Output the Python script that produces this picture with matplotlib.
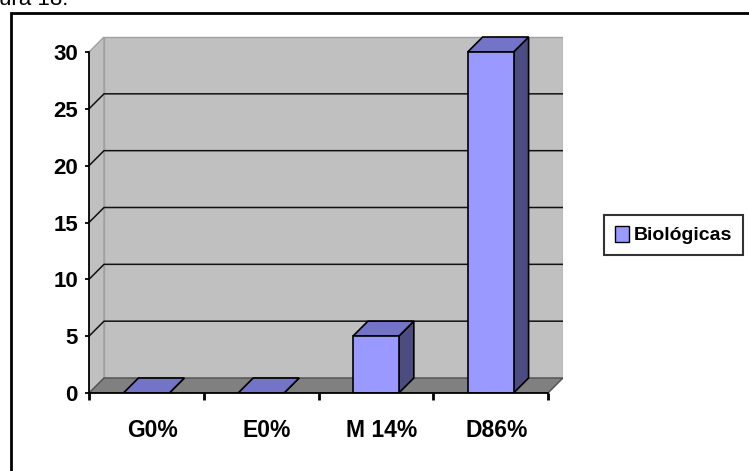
import matplotlib
matplotlib.use('Agg')
import matplotlib.pyplot as plt
from matplotlib.patches import Polygon, Rectangle, Patch

categories = ['G0%', 'E0%', 'M 14%', 'D86%']
biologicas = [0, 0, 5, 30]
yticks = [0, 5, 10, 15, 20, 25, 30]

plt.rcParams['font.family'] = ['Liberation Sans', 'DejaVu Sans']
plt.rcParams['font.weight'] = 'bold'

W, H = 749, 471
fig = plt.figure(figsize=(W / 100, H / 100), dpi=100)


def fx(px):
    return px / W


def fy(py):
    return 1 - py / H


# plot box in pixels (front axis origin, back wall corner)
left, right, bottom, top = 89, 563, 393, 36
ax = fig.add_axes([fx(left), fy(bottom), fx(right) - fx(left), fy(top) - fy(bottom)])
n = len(categories)
ymax = max(yticks)
xscale = (548 - left) / n
yscale = (bottom - 52) / ymax
ax.set_xlim(0, (right - left) / xscale)
ax.set_ylim(0, (bottom - top) / yscale)
dx = 15 / xscale
dy = 15 / yscale

# walls and floor
ax.add_patch(Polygon([(0, 0), (dx, dy), (dx, ymax + dy), (0, ymax)],
                     fc='#C0C0C0', ec='#a0a0a0', lw=1, zorder=1))
ax.add_patch(Rectangle((dx, dy), n, ymax, fc='#C0C0C0', ec='#a0a0a0', lw=1, zorder=1))
ax.add_patch(Polygon([(0, 0), (n, 0), (n + dx, dy), (dx, dy)],
                     fc='#808080', ec='#505050', lw=1, zorder=2))

# gridlines on side and back walls
for t in yticks[1:-1]:
    ax.plot([0, dx, n + dx], [t, t + dy, t + dy], color='#111111', lw=1.1, zorder=2)

# 3d bars
w = 0.4
for i, v in enumerate(biologicas):
    x0 = i + 0.5 - w / 2
    ax.add_patch(Polygon([(x0 + w, 0), (x0 + w + dx, dy), (x0 + w + dx, v + dy), (x0 + w, v)],
                         fc='#4C4C80', ec='k', lw=1.2, zorder=3))
    ax.add_patch(Polygon([(x0, v), (x0 + w, v), (x0 + w + dx, v + dy), (x0 + dx, v + dy)],
                         fc='#7373C7', ec='k', lw=1.2, zorder=3))
    ax.add_patch(Rectangle((x0, 0), w, v, fc='#9999FF', ec='k', lw=1.2, zorder=4))

ax.patch.set_visible(False)
for s in ['top', 'right']:
    ax.spines[s].set_visible(False)
ax.spines['left'].set_bounds(0, ymax)
ax.spines['bottom'].set_bounds(0, n)
ax.spines['left'].set_linewidth(1.3)
ax.spines['bottom'].set_linewidth(1.3)
ax.spines['left'].set_zorder(5)
ax.spines['bottom'].set_zorder(5)

ax.set_yticks(yticks)
ax.set_yticklabels([str(t) for t in yticks], fontsize=16)
ax.tick_params(axis='y', length=3, width=1.3, pad=5)

ax.set_xticks(range(n + 1))
ax.set_xticklabels([])
ax.set_xticks([i + 0.55 for i in range(n)], minor=True)
ax.set_xticklabels(categories, minor=True, fontsize=16.5)
ax.tick_params(axis='x', which='major', length=5, width=2)
ax.tick_params(axis='x', which='minor', length=0, pad=19)

leg = fig.legend(handles=[Patch(fc='#9999FF', ec='k', label='Biológicas')],
                 loc='center', bbox_to_anchor=(fx(673.5), fy(235)),
                 frameon=True, fancybox=False, edgecolor='k', fontsize=14,
                 handlelength=0.75, handleheight=0.9, handletextpad=0.25,
                 borderpad=0.55, borderaxespad=0)
leg.get_frame().set_linewidth(1.5)

# outer frame (only top and left edge visible in the crop)
fig.patches.append(Rectangle((fx(11), -0.1), 1.2, fy(13) + 0.1, transform=fig.transFigure,
                             fill=False, ec='k', lw=2))
fig.text(fx(68), fy(5), 'Figura 18.', ha='right', va='baseline', fontsize=16,
         fontweight='normal')

fig.savefig('out.png', dpi=100)
